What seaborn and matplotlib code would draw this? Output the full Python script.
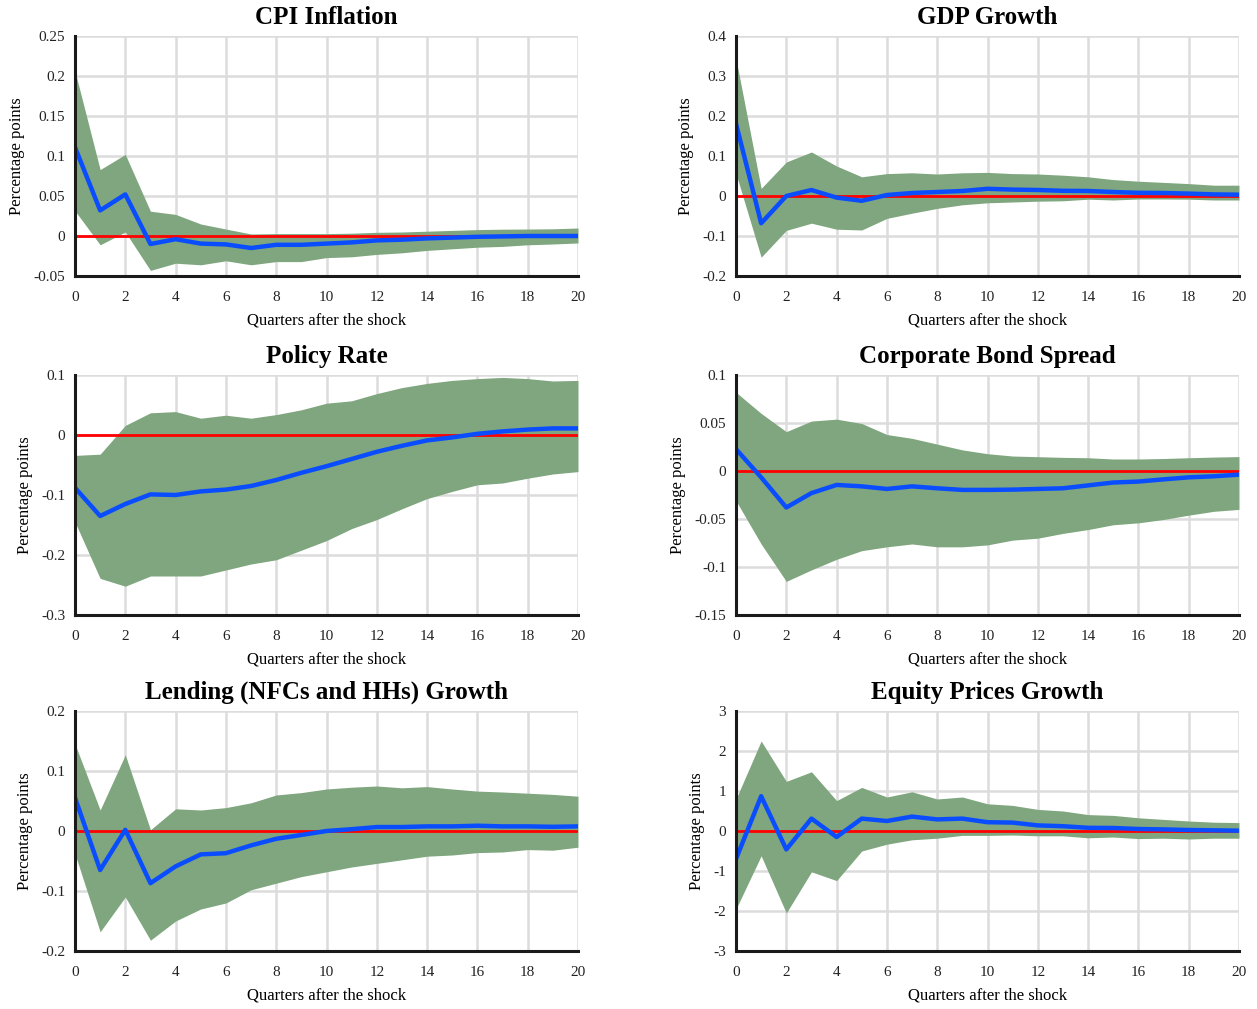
import numpy as np
import pandas as pd
import matplotlib
matplotlib.use("Agg")
import matplotlib.pyplot as plt
import seaborn as sns
from matplotlib.ticker import FuncFormatter

quarters = list(range(21))

# CPI Inflation
cpi_mean = [0.111, 0.032, 0.052, -0.010, -0.004, -0.0095, -0.0105, -0.015, -0.011, -0.011, -0.0095,
            -0.008, -0.0055, -0.0046, -0.003, -0.002, -0.001, -0.0005, 0.0, 0.0, 0.0]
cpi_upper = [0.206, 0.083, 0.102, 0.031, 0.027, 0.015, 0.0087, 0.0025, 0.003, 0.003, 0.003,
             0.0035, 0.0046, 0.005, 0.006, 0.007, 0.008, 0.0085, 0.0087, 0.009, 0.010]
cpi_lower = [0.0315, -0.011, 0.005, -0.043, -0.034, -0.036, -0.031, -0.036, -0.032, -0.032, -0.027,
             -0.026, -0.023, -0.021, -0.018, -0.016, -0.014, -0.013, -0.011, -0.010, -0.0087]

# GDP Growth
gdp_mean = [0.181, -0.068, 0.0, 0.015, -0.004, -0.012, 0.0025, 0.0075, 0.010, 0.0125, 0.018,
            0.016, 0.015, 0.013, 0.0125, 0.010, 0.008, 0.0075, 0.006, 0.004, 0.0033]
gdp_upper = [0.343, 0.019, 0.085, 0.110, 0.075, 0.048, 0.056, 0.058, 0.055, 0.058, 0.059,
             0.056, 0.055, 0.052, 0.048, 0.041, 0.037, 0.034, 0.031, 0.027, 0.027]
gdp_lower = [0.056, -0.153, -0.086, -0.068, -0.083, -0.085, -0.056, -0.043, -0.031, -0.022, -0.017,
             -0.015, -0.013, -0.012, -0.008, -0.010, -0.0075, -0.0075, -0.008, -0.010, -0.010]

# Policy Rate
rate_mean = [-0.088, -0.135, -0.115, -0.099, -0.100, -0.094, -0.091, -0.085, -0.075, -0.063, -0.052,
             -0.040, -0.028, -0.018, -0.009, -0.004, 0.002, 0.006, 0.009, 0.011, 0.011]
rate_upper = [-0.034, -0.032, 0.016, 0.037, 0.039, 0.028, 0.033, 0.028, 0.034, 0.042, 0.053,
              0.057, 0.069, 0.079, 0.086, 0.091, 0.094, 0.096, 0.094, 0.090, 0.091]
rate_lower = [-0.145, -0.239, -0.252, -0.235, -0.235, -0.235, -0.225, -0.215, -0.208, -0.192, -0.176,
              -0.156, -0.141, -0.123, -0.106, -0.094, -0.083, -0.080, -0.072, -0.065, -0.061]

# Corporate Bond Spread
spread_mean = [0.0228, -0.0066, -0.038, -0.023, -0.0145, -0.016, -0.0187, -0.016, -0.018, -0.0197, -0.0197,
               -0.0194, -0.0187, -0.018, -0.015, -0.012, -0.011, -0.0087, -0.0066, -0.0055, -0.0038]
spread_upper = [0.082, 0.060, 0.041, 0.052, 0.054, 0.0495, 0.038, 0.034, 0.028, 0.022, 0.018,
                0.0156, 0.0149, 0.0142, 0.0138, 0.0125, 0.0125, 0.013, 0.0138, 0.0145, 0.015]
spread_lower = [-0.031, -0.076, -0.115, -0.103, -0.092, -0.083, -0.079, -0.076, -0.079, -0.079, -0.077,
                -0.072, -0.070, -0.065, -0.061, -0.056, -0.054, -0.0505, -0.046, -0.042, -0.040]

# Lending (NFCs and HHs) Growth
lend_mean = [0.0556, -0.065, 0.002, -0.087, -0.059, -0.039, -0.037, -0.024, -0.013, -0.0066, 0.0,
             0.003, 0.0066, 0.0066, 0.0077, 0.0077, 0.0088, 0.0077, 0.0077, 0.007, 0.0077]
lend_upper = [0.145, 0.035, 0.127, 0.002, 0.037, 0.035, 0.039, 0.047, 0.060, 0.064, 0.070,
              0.073, 0.075, 0.072, 0.074, 0.070, 0.0665, 0.065, 0.063, 0.061, 0.058]
lend_lower = [-0.038, -0.168, -0.110, -0.182, -0.150, -0.130, -0.120, -0.098, -0.087, -0.076, -0.068,
              -0.060, -0.054, -0.048, -0.042, -0.040, -0.036, -0.035, -0.031, -0.032, -0.027]

# Equity Prices Growth
eq_mean = [-0.70, 0.87, -0.46, 0.31, -0.15, 0.31, 0.25, 0.36, 0.29, 0.31, 0.22,
           0.21, 0.14, 0.12, 0.08, 0.075, 0.05, 0.04, 0.025, 0.017, 0.008]
eq_upper = [0.80, 2.25, 1.24, 1.48, 0.76, 1.09, 0.85, 0.98, 0.80, 0.85, 0.68,
            0.64, 0.54, 0.50, 0.41, 0.39, 0.33, 0.29, 0.25, 0.22, 0.21]
eq_lower = [-1.95, -0.62, -2.05, -1.02, -1.24, -0.50, -0.33, -0.22, -0.18, -0.11, -0.11,
            -0.10, -0.12, -0.12, -0.17, -0.15, -0.19, -0.18, -0.20, -0.18, -0.18]

titles = ["CPI Inflation", "GDP Growth", "Policy Rate", "Corporate Bond Spread",
          "Lending (NFCs and HHs) Growth", "Equity Prices Growth"]
means = [cpi_mean, gdp_mean, rate_mean, spread_mean, lend_mean, eq_mean]
uppers = [cpi_upper, gdp_upper, rate_upper, spread_upper, lend_upper, eq_upper]
lowers = [cpi_lower, gdp_lower, rate_lower, spread_lower, lend_lower, eq_lower]
ylims = [(-0.05, 0.25), (-0.2, 0.4), (-0.3, 0.1), (-0.15, 0.1), (-0.2, 0.2), (-3, 3)]
ysteps = [0.05, 0.1, 0.1, 0.05, 0.1, 1]

sns.set_style("white")
plt.rcParams["font.family"] = ["Liberation Serif", "DejaVu Serif"]
plt.rcParams["text.color"] = "black"
plt.rcParams["axes.labelcolor"] = "black"

fig = plt.figure(figsize=(12.57, 10.09), dpi=100)
W, H = 1257, 1009
col_left = [75, 736]
row_top = [36, 375, 711]
ax_w, ax_h = 503, 240

band_color = "#7fa67e"
blue = "#0a4dff"

for i, title in enumerate(titles):
    r, c = divmod(i, 2)
    ax = fig.add_axes([col_left[c] / W, 1 - (row_top[r] + ax_h) / H, ax_w / W, ax_h / H])
    df = pd.DataFrame({"q": quarters, "mean": means[i], "upper": uppers[i], "lower": lowers[i]})

    ax.fill_between(df["q"], df["lower"], df["upper"], color=band_color, linewidth=0, zorder=2)
    ax.axhline(0, color="#ff0000", linewidth=2.0, zorder=3)
    sns.lineplot(data=df, x="q", y="mean", ax=ax, color=blue, linewidth=3.2, zorder=4)

    lo, hi = ylims[i]
    ax.set_xlim(0, 20)
    ax.set_ylim(lo, hi)
    ax.set_xticks(range(0, 21, 2))
    ax.set_yticks(np.round(np.arange(lo, hi + ysteps[i] / 2, ysteps[i]), 4))
    ax.yaxis.set_major_formatter(FuncFormatter(lambda v, p: f"{v:g}"))
    ax.grid(True, color="#dcdcdc", linewidth=1.8, zorder=0)
    ax.set_axisbelow(True)

    for s in ["top", "right"]:
        ax.spines[s].set_visible(False)
    for s in ["left", "bottom"]:
        ax.spines[s].set_color("#1a1a1a")
        ax.spines[s].set_linewidth(2.2)
        ax.spines[s].set_zorder(5)
    ax.tick_params(direction="in", length=5, width=2, color="#1a1a1a",
                   labelcolor="#222222", labelsize=11)
    ax.tick_params(axis="x", pad=11)
    ax.tick_params(axis="y", pad=7)

    ax.set_title(title, fontsize=18, fontweight="bold", pad=9, color="black")
    ax.set_xlabel("Quarters after the shock", fontsize=12, labelpad=6)
    ax.set_ylabel("Percentage points", fontsize=12, labelpad=6)

fig.savefig("out.png", dpi=100)
